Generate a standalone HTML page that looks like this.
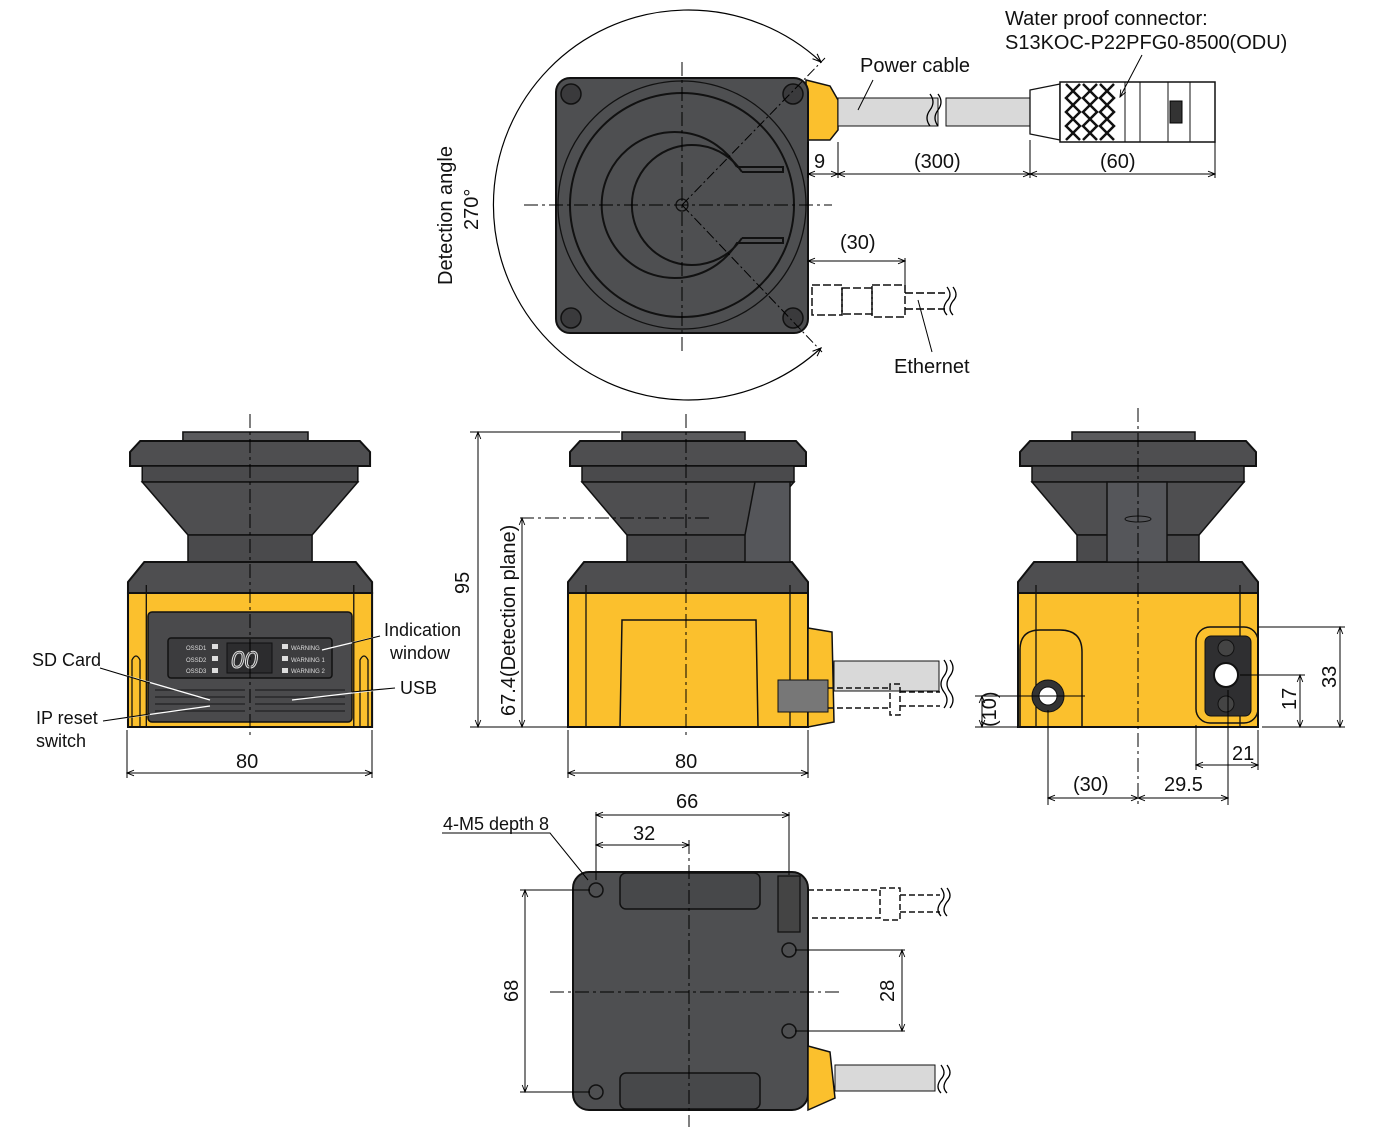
<!DOCTYPE html>
<html><head><meta charset="utf-8"><style>
html,body{margin:0;padding:0;background:#fff;}
svg{display:block;font-family:"Liberation Sans",sans-serif;}
</style></head><body>
<svg width="1396" height="1127" viewBox="0 0 1396 1127" xmlns="http://www.w3.org/2000/svg">
<defs>
<marker id="a" viewBox="0 0 10 10" refX="10" refY="5" markerWidth="9" markerHeight="7" orient="auto-start-reverse"><path d="M0,1 L10,5 L0,9" fill="none" stroke="#000" stroke-width="1.3"/></marker>
<g id="scan">
 <rect x="54" y="432" width="123" height="10" fill="#5a5a5c" stroke="#111" stroke-width="1.5"/>
 <path d="M12,441 L228,441 L238,452 L238,466 L2,466 L2,452 Z" fill="#4e4e50" stroke="#111" stroke-width="2"/>
 <rect x="14" y="466" width="212" height="16" fill="#4a4a4c" stroke="#111" stroke-width="1.5"/>
 <path d="M14,482 L226,482 L181,535 L59,535 Z" fill="#4e4e50" stroke="#111" stroke-width="1.5"/>
 <rect x="59" y="535" width="122" height="27" fill="#4a4a4c" stroke="#111" stroke-width="1.5"/>
 <path d="M0,582 L16,562 L224,562 L240,582 L240,593 L0,593 Z" fill="#4e4e50" stroke="#111" stroke-width="2"/>
 <rect x="0" y="593" width="240" height="134" fill="#fbc02d" stroke="#111" stroke-width="2"/>
 <line x1="18" y1="585" x2="18" y2="727" stroke="#111" stroke-width="1.3"/>
 <line x1="222" y1="585" x2="222" y2="727" stroke="#111" stroke-width="1.3"/>
</g>
</defs>
<g fill="none" stroke="#000" stroke-width="1">
<!-- TOP VIEW -->
<path d="M821,62 A195,195 0 1 0 821,348" stroke-width="1.2" marker-start="url(#a)" marker-end="url(#a)"/>
<path d="M806,80 L830,86 L838,100 L838,130 L830,140 L806,140 Z" fill="#fbc02d" stroke="#111" stroke-width="1.5"/>
<rect x="838" y="98" width="100" height="28" fill="#d9d9d9" stroke="#111"/>
<rect x="946" y="98" width="84" height="28" fill="#d9d9d9" stroke="#111"/>
<path d="M930,94 q6,8 0,16 q-6,8 0,16 M938,94 q6,8 0,16 q-6,8 0,16" stroke-width="1.3"/>
<path d="M1030,90 L1060,84 L1060,140 L1030,134 Z" fill="#fff" stroke="#111" stroke-width="1.3"/>
<rect x="1060" y="82" width="155" height="60" fill="#fff" stroke="#111" stroke-width="1.5"/>
<g stroke="#111" stroke-width="2.5">
<path d="M1066,84 l14,14 l-14,14 l14,14 l-14,14 M1080,84 l-14,14 l14,14 l-14,14 l14,14"/>
<path d="M1083,84 l14,14 l-14,14 l14,14 l-14,14 M1097,84 l-14,14 l14,14 l-14,14 l14,14"/>
<path d="M1100,84 l14,14 l-14,14 l14,14 l-14,14 M1114,84 l-14,14 l14,14 l-14,14 l14,14"/>
</g>
<path d="M1125,82 v60 M1140,82 v60 M1168,82 v60 M1190,82 v60" stroke="#111"/>
<rect x="1170" y="101" width="12" height="22" fill="#333"/>
<rect x="556" y="78" width="252" height="255" rx="14" fill="#4e4f51" stroke="#111" stroke-width="2"/>
<circle cx="682" cy="205" r="124" stroke="#111" stroke-width="1.3"/>
<circle cx="682" cy="205" r="112" stroke="#111" stroke-width="2"/>
<path d="M737,167 A73,73 0 1 0 737,243 L783,243 L783,238 L742,238 M737,167 L783,167 L783,172 L742,172" stroke="#111" stroke-width="2"/>
<path d="M742,172 A60,60 0 1 0 742,238" stroke="#111" stroke-width="2"/>
<circle cx="682" cy="205" r="6" stroke="#111" stroke-width="1.3"/>
<g fill="#3a3a3c" stroke="#111" stroke-width="1.5"><circle cx="571" cy="94" r="10"/><circle cx="793" cy="94" r="10"/><circle cx="571" cy="318" r="10"/><circle cx="793" cy="318" r="10"/></g>
<path d="M682,62 V352 M524,205 H832" stroke-dasharray="14,4,3,4"/>
<path d="M682,205 L825,58 M682,205 L822,352" stroke-dasharray="10,3,2,3"/>
<rect x="812" y="285" width="30" height="30" fill="#fff" stroke="#111" stroke-width="1.5" stroke-dasharray="8,3"/>
<rect x="842" y="288" width="30" height="26" stroke="#111" stroke-width="1.5" stroke-dasharray="8,3"/>
<rect x="872" y="285" width="33" height="32" stroke="#111" stroke-width="1.5" stroke-dasharray="8,3"/>
<path d="M905,293 H945 M905,309 H945" stroke-width="1.5" stroke-dasharray="8,3"/>
<path d="M947,287 q6,8 0,14 q-6,8 0,14 M953,287 q6,8 0,14 q-6,8 0,14" stroke-width="1.3"/>
<!-- top dims -->
<path d="M808,142 V178 M838,142 V178 M1030,140 V178 M1215,142 V178 M905,258 V290"/>
<line x1="808" y1="174" x2="838" y2="174" marker-start="url(#a)" marker-end="url(#a)"/>
<line x1="838" y1="174" x2="1030" y2="174" marker-start="url(#a)" marker-end="url(#a)"/>
<line x1="1030" y1="174" x2="1215" y2="174" marker-start="url(#a)" marker-end="url(#a)"/>
<line x1="808" y1="261" x2="905" y2="261" marker-start="url(#a)" marker-end="url(#a)"/>
<line x1="873" y1="80" x2="858" y2="110"/>
<line x1="1142" y1="55" x2="1120" y2="97" marker-end="url(#a)"/>
<line x1="932" y1="352" x2="918" y2="300"/>
</g>
<g font-size="20" fill="#111">
<text x="1005" y="25">Water proof connector:</text>
<text x="1005" y="49">S13KOC-P22PFG0-8500(ODU)</text>
<text x="860" y="72">Power cable</text>
<text x="814" y="168">9</text>
<text x="914" y="168">(300)</text>
<text x="1100" y="168">(60)</text>
<text x="840" y="249">(30)</text>
<text x="894" y="373">Ethernet</text>
<text transform="translate(452,285) rotate(-90)">Detection angle</text>
<text transform="translate(478,230) rotate(-90)">270°</text>
</g>

<!-- FRONT -->
<g transform="translate(128,0) scale(1.017,1)"><use href="#scan"/></g>
<rect x="148" y="612" width="204" height="110" rx="4" fill="#4a4a4c" stroke="#111" stroke-width="1.5"/>
<rect x="168" y="638" width="164" height="40" rx="3" fill="#3c3c3e" stroke="#111" stroke-width="1.5"/>
<rect x="227" y="643" width="45" height="30" fill="#2c2c2e" stroke="#111"/>
<text x="231" y="668" font-size="24" fill="#3c3c3e" stroke="#ddd" stroke-width="1" font-style="italic">00</text>
<g fill="#ddd" font-size="6"><text x="186" y="650">OSSD1</text><text x="186" y="662">OSSD2</text><text x="186" y="673">OSSD3</text><text x="291" y="650">WARNING</text><text x="291" y="662">WARNING 1</text><text x="291" y="673">WARNING 2</text></g>
<g fill="#ddd"><rect x="212" y="644" width="6" height="5"/><rect x="212" y="656" width="6" height="5"/><rect x="212" y="668" width="6" height="5"/><rect x="282" y="644" width="6" height="5"/><rect x="282" y="656" width="6" height="5"/><rect x="282" y="668" width="6" height="5"/></g>
<g stroke="#222" stroke-width="1.3"><path d="M155,690 H245 M155,697 H245 M155,704 H245 M155,711 H245 M255,690 H345 M255,697 H345 M255,704 H345 M255,711 H345"/></g>
<line x1="250" y1="414" x2="250" y2="735" stroke="#000" stroke-dasharray="14,4,3,4"/>
<path d="M132,727 V660 q4,-8 8,0 V727" fill="none" stroke="#111" stroke-width="1.3"/>
<path d="M368,727 V660 q-4,-8 -8,0 V727" fill="none" stroke="#111" stroke-width="1.3"/>
<g stroke="#fff" stroke-width="1.3"><line x1="100" y1="668" x2="210" y2="700"/><line x1="103" y1="721" x2="210" y2="706"/><line x1="380" y1="636" x2="322" y2="650"/><line x1="395" y1="688" x2="292" y2="700"/></g>
<g stroke="#000" stroke-width="1.1"><line x1="100" y1="668" x2="150" y2="683"/><line x1="103" y1="721" x2="150" y2="714"/><line x1="380" y1="636" x2="352" y2="643"/><line x1="395" y1="688" x2="352" y2="692"/></g>
<g font-size="18" fill="#111"><text x="32" y="666">SD Card</text><text x="36" y="724">IP reset</text><text x="36" y="747">switch</text><text x="384" y="636">Indication</text><text x="390" y="659">window</text><text x="400" y="694">USB</text><text x="236" y="768" font-size="20">80</text></g>
<path d="M127,730 V778 M372,730 V778" stroke="#000"/>
<line x1="127" y1="773" x2="372" y2="773" stroke="#000" marker-start="url(#a)" marker-end="url(#a)"/>

<!-- SIDE -->
<g transform="translate(568,0)"><use href="#scan"/></g>
<path d="M620,727 L622,620 L756,620 L758,727" fill="none" stroke="#111" stroke-width="1.5"/>
<path d="M755,482 L790,482 L790,562 L745,562 L745,535 Z" fill="#55565a" stroke="#111" stroke-width="1.5"/>
<path d="M808,628 L832,632 L834,722 L808,727 Z" fill="#fbc02d" stroke="#111" stroke-width="1.5"/>
<rect x="834" y="661" width="105" height="30" fill="#d9d9d9" stroke="#111"/>
<path d="M778,680 H828 V712 H778 Z" fill="#777" stroke="#111"/>
<path d="M828,688 H890 M828,708 H890 M890,684 V715 H900 V684 Z M900,692 H940 M900,706 H940" fill="none" stroke="#111" stroke-width="1.5" stroke-dasharray="6,3"/>
<path d="M944,660 q6,8 0,16 q-6,8 0,16 q6,8 0,16 M950,660 q6,8 0,16 q-6,8 0,16 q6,8 0,16" fill="none" stroke="#000" stroke-width="1.3"/>
<line x1="686" y1="414" x2="686" y2="735" stroke="#000" stroke-dasharray="14,4,3,4"/>
<path d="M520,518 H710" stroke="#000" stroke-dasharray="14,4,3,4"/>
<path d="M470,432 H620 M470,727 H568 M568,730 V778 M808,730 V778" stroke="#000"/>
<line x1="478" y1="432" x2="478" y2="727" stroke="#000" marker-start="url(#a)" marker-end="url(#a)"/>
<line x1="522" y1="518" x2="522" y2="727" stroke="#000" marker-start="url(#a)" marker-end="url(#a)"/>
<line x1="568" y1="773" x2="808" y2="773" stroke="#000" marker-start="url(#a)" marker-end="url(#a)"/>
<g font-size="20" fill="#111"><text transform="translate(469,594) rotate(-90)">95</text><text transform="translate(515,716) rotate(-90)">67.4(Detection plane)</text><text x="675" y="768">80</text></g>

<!-- BACK -->
<g transform="translate(1018,0)"><use href="#scan"/></g>
<rect x="1107" y="482" width="60" height="80" fill="#55565a" stroke="#111" stroke-width="1.5"/>
<ellipse cx="1138" cy="519" rx="13" ry="3" fill="none" stroke="#111"/>
<path d="M1020,727 V650 q0,-20 20,-20 H1060 q22,0 22,22 V727" fill="none" stroke="#111" stroke-width="1.5"/>
<circle cx="1048" cy="696" r="16" fill="#333" stroke="#111"/><circle cx="1048" cy="696" r="9" fill="#fff" stroke="#111"/>
<rect x="1196" y="627" width="62" height="96" rx="14" fill="none" stroke="#111" stroke-width="1.5"/>
<rect x="1205" y="636" width="46" height="80" rx="6" fill="#2f2f31" stroke="#111"/>
<circle cx="1226" cy="648" r="8" fill="#444" stroke="#111"/><circle cx="1226" cy="704" r="8" fill="#444" stroke="#111"/>
<circle cx="1226" cy="675" r="12" fill="#fff" stroke="#111" stroke-width="2"/>
<line x1="1138" y1="408" x2="1138" y2="805" stroke="#000" stroke-dasharray="14,4,3,4"/>
<g stroke="#000" fill="none">
<path d="M975,696 H1085 M975,727 H1018 M1258,627 H1345 M1240,675 H1305 M1262,727 H1345 M1048,710 V805 M1228,690 V805 M1196,725 V770 M1258,730 V770"/>
<line x1="982" y1="696" x2="982" y2="727" marker-start="url(#a)" marker-end="url(#a)"/>
<line x1="1300" y1="675" x2="1300" y2="727" marker-start="url(#a)" marker-end="url(#a)"/>
<line x1="1340" y1="627" x2="1340" y2="727" marker-start="url(#a)" marker-end="url(#a)"/>
<line x1="1196" y1="765" x2="1258" y2="765" marker-start="url(#a)" marker-end="url(#a)"/>
<line x1="1048" y1="798" x2="1138" y2="798" marker-start="url(#a)" marker-end="url(#a)"/>
<line x1="1138" y1="798" x2="1228" y2="798" marker-start="url(#a)" marker-end="url(#a)"/>
</g>
<g font-size="20" fill="#111"><text transform="translate(996,727) rotate(-90)">(10)</text><text transform="translate(1296,710) rotate(-90)">17</text><text transform="translate(1336,688) rotate(-90)">33</text><text x="1232" y="760">21</text><text x="1073" y="791">(30)</text><text x="1164" y="791">29.5</text></g>

<!-- BOTTOM VIEW -->
<rect x="573" y="872" width="235" height="238" rx="16" fill="#4e4f51" stroke="#111" stroke-width="2"/>
<rect x="620" y="873" width="140" height="36" rx="6" fill="#47484a" stroke="#111" stroke-width="1.5"/>
<rect x="620" y="1073" width="140" height="36" rx="6" fill="#47484a" stroke="#111" stroke-width="1.5"/>
<path d="M778,876 H800 V932 H778 Z" fill="#444" stroke="#111" stroke-width="1.3"/>
<path d="M808,1046 L830,1052 L835,1098 L808,1110 Z" fill="#fbc02d" stroke="#111" stroke-width="1.5"/>
<rect x="835" y="1065" width="100" height="26" fill="#d9d9d9" stroke="#111"/>
<path d="M808,890 H880 V918 H808 M880,888 H900 V920 H880 M900,895 H940 M900,912 H940" fill="none" stroke="#111" stroke-width="1.5" stroke-dasharray="6,3"/>
<g fill="none" stroke="#000" stroke-width="1.3"><path d="M941,888 q6,8 0,14 q-6,8 0,14 M947,888 q6,8 0,14 q-6,8 0,14 M941,1065 q6,8 0,14 q-6,8 0,14 M947,1065 q6,8 0,14 q-6,8 0,14"/></g>
<g fill="none" stroke="#111" stroke-width="1.5"><circle cx="596" cy="890" r="7"/><circle cx="596" cy="1092" r="7"/><circle cx="789" cy="950" r="7"/><circle cx="789" cy="1031" r="7"/></g>
<g stroke="#000" fill="none">
<path d="M689,840 V1127 M550,992 H840" stroke-dasharray="14,4,3,4"/>
<path d="M596,812 V880 M789,812 V875 M520,890 H590 M520,1092 H590 M795,950 H905 M795,1031 H905"/>
<line x1="596" y1="815" x2="789" y2="815" marker-start="url(#a)" marker-end="url(#a)"/>
<line x1="596" y1="845" x2="689" y2="845" marker-start="url(#a)" marker-end="url(#a)"/>
<line x1="525" y1="890" x2="525" y2="1092" marker-start="url(#a)" marker-end="url(#a)"/>
<line x1="902" y1="950" x2="902" y2="1031" marker-start="url(#a)" marker-end="url(#a)"/>
<path d="M442,833 H550 L588,880"/>
</g>
<g font-size="20" fill="#111"><text x="676" y="808">66</text><text x="633" y="840">32</text><text x="443" y="830" font-size="18">4-M5 depth 8</text><text transform="translate(518,1002) rotate(-90)">68</text><text transform="translate(894,1002) rotate(-90)">28</text></g>
</svg>
</body></html>
